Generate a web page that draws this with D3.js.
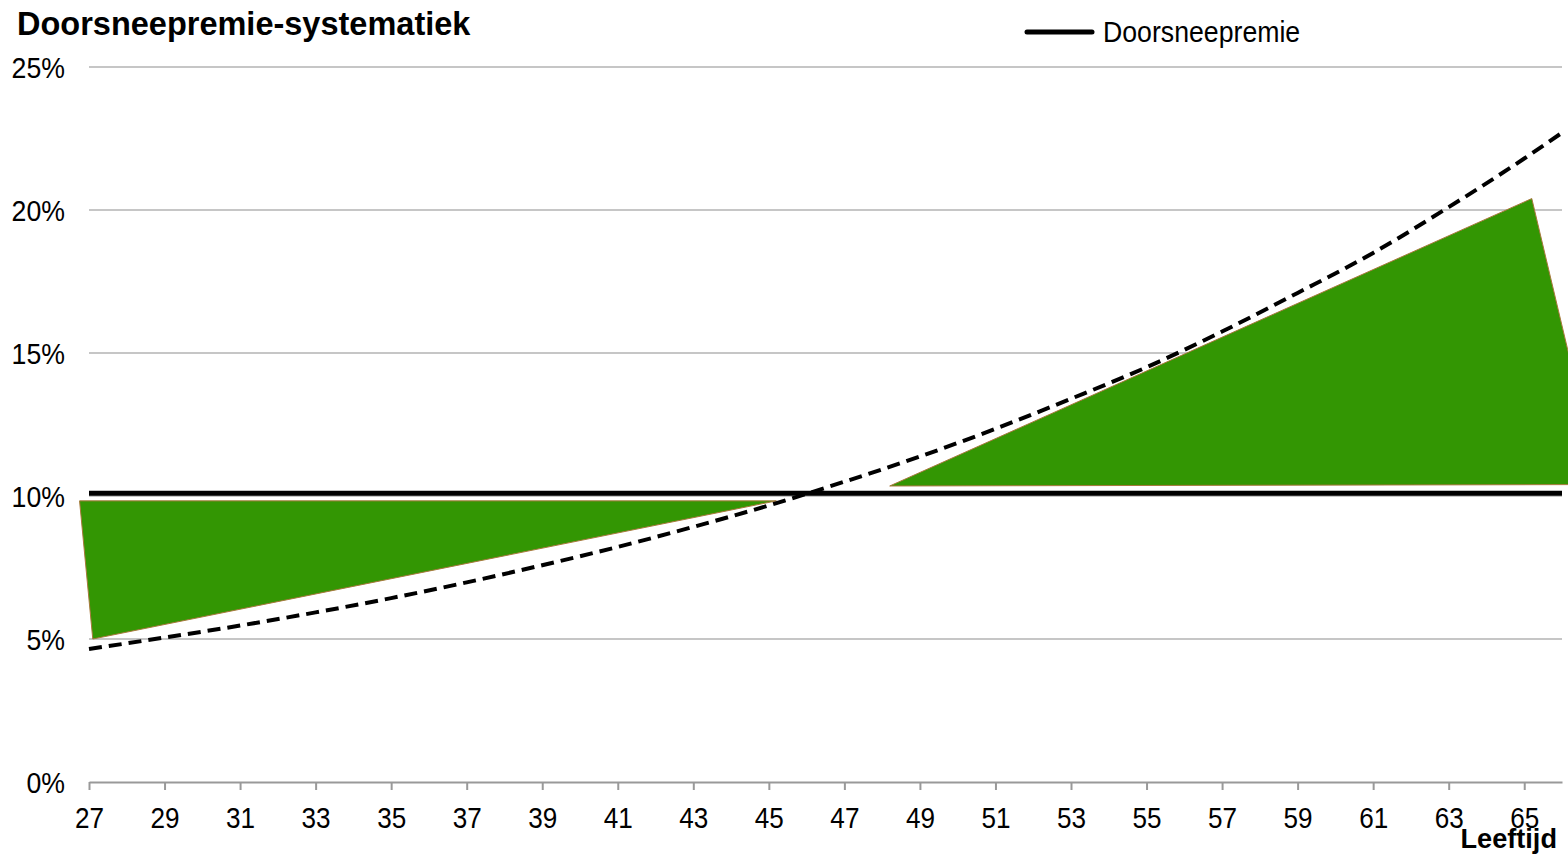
<!DOCTYPE html>
<html>
<head>
<meta charset="utf-8">
<script src="https://cdn.jsdelivr.net/npm/d3@7"></script>
<style>
  html, body { margin: 0; padding: 0; background: #fff; }
  svg { display: block; }
  text { font-family: "Liberation Sans", Arial, sans-serif; fill: #000; }
</style>
</head>
<body>
<svg id="chart" width="1568" height="855"></svg>
<script>
// Leeftijden op de x-as
const tickAges = d3.range(27, 66, 2);
// Procent-ticks op de y-as
const pctTicks = [0, 5, 10, 15, 20, 25];

// Doorsneepremie (vast percentage voor elke leeftijd)
const doorsneePremie = 10.1;

// Actuarieel benodigde premie per leeftijd (stippellijn)
const curveAges = [27, 29, 31, 33, 35, 37, 39, 41, 43, 45, 47, 49, 51, 53, 55, 57, 59, 61, 63, 65, 66];
const curvePct  = [4.65, 5.05, 5.47, 5.93, 6.43, 6.98, 7.58, 8.22, 8.92, 9.67, 10.5, 11.38, 12.35, 13.4, 14.5, 15.75, 17.1, 18.5, 20.1, 21.8, 22.7];

// Groene vlakken: jong betaalt te veel, oud te weinig
const areaYoungAges = [26.75, 27.1, 45.2];
const areaYoungPct  = [9.83, 5.0, 9.83];
const areaOldAges   = [48.2, 65.2, 67.0];
const areaOldPct    = [10.35, 20.4, 10.4];

const svg = d3.select("#chart");

const x = d3.scaleLinear().domain([27, 66]).range([89, 1562]);
const y = d3.scaleLinear().domain([0, 25]).range([782, 67]);

// Horizontale rasterlijnen
svg.append("g")
  .selectAll("line")
  .data(pctTicks.filter(d => d > 0))
  .join("line")
  .attr("x1", x(27)).attr("x2", x(66))
  .attr("y1", d => y(d)).attr("y2", d => y(d))
  .attr("stroke", "#c6c6c6").attr("stroke-width", 2);

// Y-as labels (iets smaller lettertype)
svg.append("g")
  .selectAll("text")
  .data(pctTicks)
  .join("text")
  .attr("transform", d => `translate(65,${y(d) + 11}) scale(0.92,1)`)
  .attr("text-anchor", "end")
  .attr("font-size", 29)
  .text(d => d + "%");

// X-as
const xAxis = d3.axisBottom(x)
  .tickValues(tickAges)
  .tickSize(8)
  .tickSizeOuter(0)
  .tickFormat(d3.format("d"));

const gx = svg.append("g")
  .attr("transform", `translate(0,${y(0)})`)
  .call(xAxis);
gx.select(".domain").attr("stroke", "#999").attr("stroke-width", 2);
gx.selectAll(".tick line").attr("stroke", "#999").attr("stroke-width", 2);
gx.selectAll(".tick text")
  .attr("font-size", 29)
  .attr("font-family", "'Liberation Sans', Arial, sans-serif")
  .attr("fill", "#000")
  .attr("y", 0)
  .attr("dy", 0)
  .attr("transform", "translate(0,46) scale(0.9,1)");

// Groene vlakken
const poly = d3.line().x(d => x(d[0])).y(d => y(d[1]));
[[areaYoungAges, areaYoungPct], [areaOldAges, areaOldPct]].forEach(([a, p]) => {
  svg.append("path")
    .datum(d3.zip(a, p))
    .attr("d", d => poly(d) + "Z")
    .attr("fill", "#339603")
    .attr("stroke", "#a8783c")
    .attr("stroke-width", 1);
});

// Doorsneepremie-lijn
svg.append("line")
  .attr("x1", x(27)).attr("x2", x(66))
  .attr("y1", y(doorsneePremie)).attr("y2", y(doorsneePremie))
  .attr("stroke", "#000").attr("stroke-width", 5);

// Benodigde premie (stippellijn)
const curve = d3.line()
  .x(d => x(d[0])).y(d => y(d[1]))
  .curve(d3.curveMonotoneX);
svg.append("path")
  .datum(d3.zip(curveAges, curvePct))
  .attr("d", curve)
  .attr("fill", "none")
  .attr("stroke", "#000")
  .attr("stroke-width", 4)
  .attr("stroke-dasharray", "13 7");

// Titel
svg.append("text")
  .attr("x", 17).attr("y", 35)
  .attr("font-size", 32.5)
  .attr("font-weight", "bold")
  .text("Doorsneepremie-systematiek");

// Legenda
svg.append("line")
  .attr("x1", 1027).attr("x2", 1092)
  .attr("y1", 32).attr("y2", 32)
  .attr("stroke", "#000").attr("stroke-width", 5)
  .attr("stroke-linecap", "round");
svg.append("text")
  .attr("transform", "translate(1103,42) scale(0.92,1)")
  .attr("font-size", 29)
  .text("Doorsneepremie");

// As-titel
svg.append("text")
  .attr("transform", "translate(1557,848) scale(0.97,1)")
  .attr("text-anchor", "end")
  .attr("font-size", 28)
  .attr("font-weight", "bold")
  .text("Leeftijd");
</script>
</body>
</html>
